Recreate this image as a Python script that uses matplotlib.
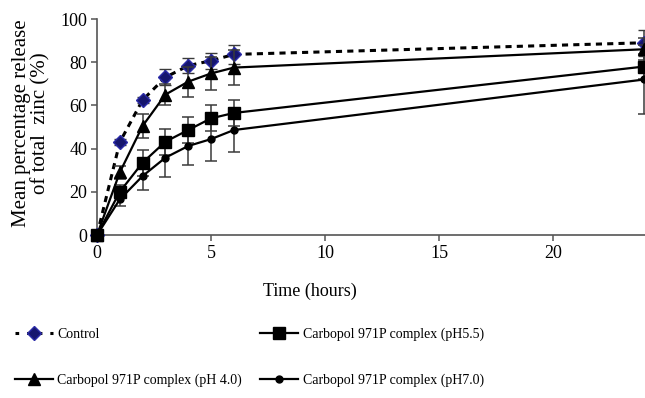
import numpy as np
import matplotlib
matplotlib.use("Agg")
import matplotlib.pyplot as plt
from matplotlib.lines import Line2D

# data
time_h = [0, 1, 2, 3, 4, 5, 6, 24]

control = [0, 43, 62.5, 73, 78.4, 80.7, 83.6, 89]
control_err = [0, 1.5, 1.5, 3.7, 3.4, 3.7, 4.4, 6]

ph40 = [0, 29, 50.5, 65, 71, 74.8, 77.5, 86]
ph40_err = [0, 3, 5.5, 5, 7, 7.5, 8, 5]

ph55 = [0, 20, 33.5, 43.2, 48.6, 54, 56.5, 78]
ph55_err = [0, 3, 6, 6, 6, 6, 6, 6]

ph70 = [0, 16.5, 27.3, 35.8, 41.2, 44.4, 48.6, 72]
ph70_err = [0, 3, 6.5, 9, 9, 10, 10.3, 16]

labels = ["Control", "Carbopol 971P complex (pH 4.0)",
          "Carbopol 971P complex (pH5.5)", "Carbopol 971P complex (pH7.0)"]
yticks = [0, 20, 40, 60, 80, 100]
xticks = [0, 5, 10, 15, 20]

plt.rcParams['font.family'] = ['Liberation Serif', 'DejaVu Serif']

fig = plt.figure(figsize=(6.45, 3.98), dpi=100)
ax = fig.add_axes([97/645, 163/398, 1 - 97/645, 216/398])

errc = '#3a3a3a'
ekw = dict(ecolor=errc, elinewidth=1.1, capsize=4.5, capthick=1.1)

ax.errorbar(time_h, control, yerr=control_err, color='black', lw=2.2,
            dashes=(2.0, 1.7), marker='D', ms=7, mfc='#16166e', mec='#2b2ba8',
            mew=1.0, clip_on=False, zorder=3, **ekw)
ax.errorbar(time_h, ph70, yerr=ph70_err, color='black', lw=1.6,
            marker='o', ms=5, clip_on=False, zorder=4, **ekw)
ax.errorbar(time_h, ph55, yerr=ph55_err, color='black', lw=1.6,
            marker='s', ms=9, clip_on=False, zorder=4, **ekw)
ax.errorbar(time_h, ph40, yerr=ph40_err, color='black', lw=1.6,
            marker='^', ms=9, clip_on=False, zorder=4, **ekw)

ax.set_xlim(0, 24.03)
ax.set_ylim(0, 100)
ax.set_xticks(xticks)
ax.set_yticks(yticks)
for s in ['top', 'right']:
    ax.spines[s].set_visible(False)
for s in ['left', 'bottom']:
    ax.spines[s].set_color('#555555')
    ax.spines[s].set_linewidth(1.2)
ax.tick_params(direction='out', length=4, width=1.1, color='#555555',
               labelsize=13, pad=3)

ax.set_xlabel('Time (hours)', fontsize=13)
ax.xaxis.set_label_coords((310 - 97) / 548, -0.222)
ax.set_ylabel('Mean percentage release\nof total  zinc (%)', fontsize=15,
              linespacing=1.05)
ax.yaxis.set_label_coords(-0.084, 0.516)

handles = [
    Line2D([], [], color='black', lw=2.2, dashes=(1.2, 2.6), marker='D', ms=7,
           mfc='#16166e', mec='#2b2ba8'),
    Line2D([], [], color='black', lw=1.6, marker='^', ms=9),
    Line2D([], [], color='black', lw=1.6, marker='s', ms=9),
    Line2D([], [], color='black', lw=1.6, marker='o', ms=5),
]
fig.legend(handles, labels, ncol=2, loc='upper left',
           bbox_to_anchor=(15/645, 1 - 328/398), frameon=False, fontsize=10,
           handlelength=2.7, handletextpad=0.35, columnspacing=1.3,
           labelspacing=2.3, borderpad=0, borderaxespad=0)

fig.savefig('out.png', dpi=100)
